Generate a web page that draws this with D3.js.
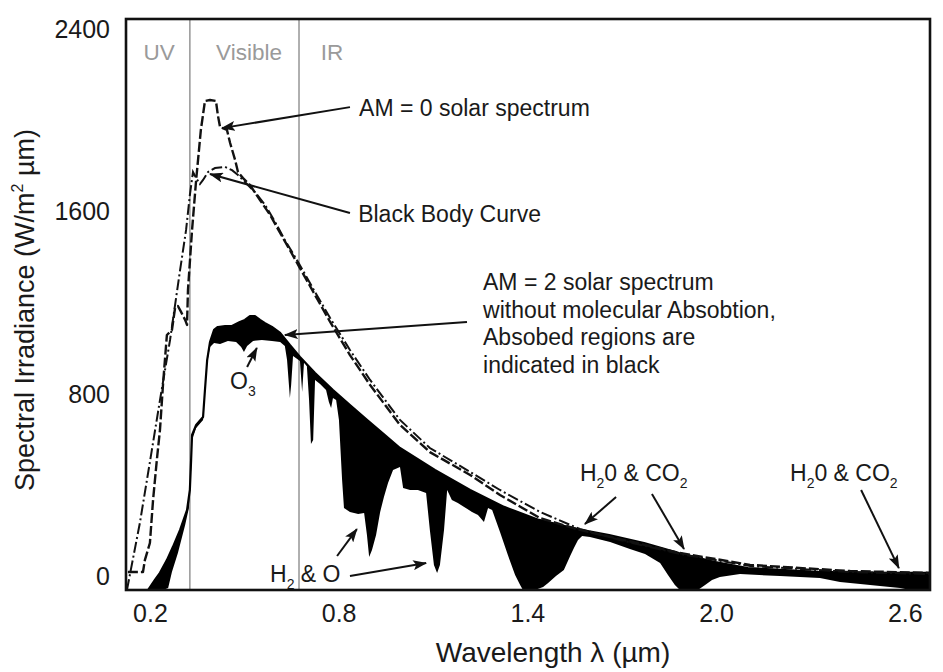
<!DOCTYPE html>
<html>
<head>
<meta charset="utf-8">
<script src="https://cdn.jsdelivr.net/npm/d3@7"></script>
<style>
  body { margin: 0; background: #fff; }
  text { font-family: "Liberation Sans", Arial, sans-serif; fill: #1a1a1a; }
</style>
</head>
<body>
<div id="chart"></div>
<script>
// wavelength (um), spectral irradiance (W/m2 um)
const am0 = [
  [0.130,22],[0.178,22],[0.184,74],[0.200,149],[0.210,337],[0.223,526],[0.232,644],[0.242,850],
  [0.254,1060],[0.270,1082],[0.280,1178],[0.289,1187],[0.299,1161],[0.312,1126],[0.318,1104],
  [0.321,1257],[0.334,1520],[0.347,1739],[0.362,1958],[0.375,2085],[0.391,2089],[0.410,2085],
  [0.416,2023],[0.423,1971],[0.445,1958],[0.455,1901],[0.471,1826],[0.480,1774],[0.496,1747],
  [0.518,1717],[0.550,1651],[0.582,1586],[0.614,1507],[0.645,1432],[0.677,1353],[0.725,1235],
  [0.773,1117],[0.836,972],[0.900,841],[0.995,666],[1.090,547],[1.218,447],[1.313,359],
  [1.440,258],[1.567,206],[1.694,166],[1.885,105],[2.108,53],[2.426,26],[2.680,18]
];
const blackBody = [
  [0.127,-57],[0.168,236],[0.200,504],[0.232,775],[0.264,1038],[0.296,1345],[0.315,1520],
  [0.327,1673],[0.337,1774],[0.347,1747],[0.359,1721],[0.369,1739],[0.385,1774],[0.407,1791],
  [0.439,1796],[0.461,1782],[0.480,1761],[0.502,1730],[0.534,1686],[0.566,1630],[0.598,1555],
  [0.629,1476],[0.671,1380],[0.725,1248],[0.773,1134],[0.836,994],[0.900,863],[0.995,688],
  [1.090,565],[1.218,460],[1.313,381],[1.440,285],[1.567,210],[1.694,162],[1.885,101],
  [2.108,48],[2.426,22],[2.680,13]
];
// AM2 without molecular absorption (upper edge of the black regions)
const am2Clear = [
  [0.194,-57],[0.216,-13],[0.232,18],[0.254,74],[0.273,131],[0.296,206],[0.318,293],[0.327,381],
  [0.331,512],[0.334,622],[0.347,666],[0.369,701],[0.375,819],[0.382,950],[0.391,1029],
  [0.404,1082],[0.416,1095],[0.439,1099],[0.461,1099],[0.486,1117],[0.502,1126],[0.518,1143],
  [0.534,1143],[0.550,1126],[0.566,1112],[0.588,1095],[0.614,1069],[0.645,1016],[0.677,964],
  [0.725,893],[0.782,819],[0.836,753],[0.890,688],[0.947,622],[0.995,565],[1.106,469],
  [1.218,381],[1.326,307],[1.437,250],[1.571,206],[1.660,184],[1.771,149],[1.882,105],
  [1.993,66],[2.101,39],[2.324,22],[2.547,18],[2.680,18]
];
// AM2 with absorption (lower edge of the black regions)
const am2 = [
  [0.242,-57],[0.258,-48],[0.270,22],[0.289,105],[0.312,228],[0.324,302],[0.331,469],[0.334,600],
  [0.347,653],[0.369,688],[0.375,806],[0.382,937],[0.391,1007],[0.404,1025],[0.423,1020],
  [0.448,1034],[0.474,1029],[0.490,1007],[0.499,985],[0.509,1012],[0.528,1034],[0.556,1038],
  [0.588,1034],[0.614,1029],[0.629,1012],[0.636,950],[0.642,841],[0.645,784],[0.649,841],
  [0.655,968],[0.664,959],[0.677,946],[0.684,810],[0.690,942],[0.699,924],[0.706,775],
  [0.712,582],[0.719,600],[0.725,863],[0.741,845],[0.760,819],[0.769,766],[0.776,740],
  [0.782,784],[0.792,775],[0.801,688],[0.811,425],[0.817,302],[0.836,285],[0.862,276],
  [0.881,280],[0.890,184],[0.897,88],[0.906,118],[0.919,184],[0.932,285],[0.944,350],
  [0.957,412],[0.973,469],[0.995,482],[1.005,390],[1.027,381],[1.052,381],[1.078,368],
  [1.090,206],[1.103,53],[1.113,18],[1.122,53],[1.135,206],[1.145,381],[1.160,337],
  [1.179,324],[1.199,307],[1.224,285],[1.243,272],[1.262,241],[1.275,302],[1.288,293],
  [1.313,197],[1.338,96],[1.361,9],[1.377,-35],[1.386,-57],[1.424,-57],[1.450,-44],
  [1.466,-26],[1.491,4],[1.516,31],[1.536,92],[1.548,127],[1.561,162],[1.574,180],
  [1.599,175],[1.663,153],[1.726,123],[1.774,101],[1.822,61],[1.847,9],[1.869,-35],
  [1.885,-57],[1.942,-57],[1.965,-35],[1.987,-13],[2.012,0],[2.076,13],[2.203,4],
  [2.330,-4],[2.394,-22],[2.458,-31],[2.521,-39],[2.585,-48],[2.617,-57],[2.680,-57]
];
const bandEdges = [0.327, 0.674];
const bandNames = [["UV",0.229],["Visible",0.515],["IR",0.779]];
const xTicks = [0.2, 0.8, 1.4, 2.0, 2.6];
const yTicks = [0, 800, 1600, 2400];
// annotations in chart units: text anchor, arrows [tail, tip]
const notes = [
  {lines:[["AM = 0 solar spectrum"]], at:[0.865,2019], arrows:[[[0.836,2058],[0.429,1966]]]},
  {lines:[["Black Body Curve"]], at:[0.862,1555], arrows:[[[0.836,1594],[0.391,1765]]]},
  {lines:[["AM = 2 solar spectrum"],["without molecular Absobtion,"],["Absobed regions are"],["indicated in black"]],
   at:[1.259,1257], arrows:[[[1.208,1117],[0.629,1060]]]},
  {lines:[["O"],["3","sub"]], at:[0.455,823], arrows:[[[0.509,920],[0.540,1003]]], inline:true},
  {lines:[["H"],["2","sub"],[" & O"]], at:[0.582,-22], arrows:[[[0.795,92],[0.858,210]],[[0.836,4],[1.078,61]]], inline:true},
  {lines:[["H"],["2","sub"],["0 & CO"],["2","sub"]], at:[1.567,420], arrows:[[[1.682,350],[1.583,232]],[[1.796,364],[1.898,123]]], inline:true},
  {lines:[["H"],["2","sub"],["0 & CO"],["2","sub"]], at:[2.235,420], arrows:[[[2.461,381],[2.581,39]]], inline:true}
];

const width = 943, height = 672;
const svg = d3.select("#chart").append("svg")
    .attr("width", width)
    .attr("height", height);

const x = d3.scaleLinear().domain([0.124, 2.68]).range([126, 930]);
const y = d3.scaleLinear().domain([-57, 2444]).range([590, 19]);

const defs = svg.append("defs");
defs.append("clipPath").attr("id", "plot")
  .append("rect")
    .attr("x", x.range()[0]).attr("y", y.range()[1])
    .attr("width", x.range()[1] - x.range()[0])
    .attr("height", y.range()[0] - y.range()[1]);
defs.append("marker")
    .attr("id", "head")
    .attr("markerUnits", "userSpaceOnUse")
    .attr("viewBox", "0 0 14 10")
    .attr("refX", 13).attr("refY", 5)
    .attr("markerWidth", 14).attr("markerHeight", 10)
    .attr("orient", "auto")
  .append("path")
    .attr("d", "M0,0 L14,5 L0,10 L3,5 Z")
    .attr("fill", "#111");

const line = d3.line().x(d => x(d[0])).y(d => y(d[1]));
const plot = svg.append("g").attr("clip-path", "url(#plot)");

// band separators
plot.selectAll(".edge")
  .data(bandEdges)
  .enter().append("line")
    .attr("x1", d => x(d)).attr("x2", d => x(d))
    .attr("y1", y.range()[0]).attr("y2", y.range()[1])
    .attr("stroke", "#9c9c9c")
    .attr("stroke-width", 1.6);

svg.selectAll(".band")
  .data(bandNames)
  .enter().append("text")
    .attr("x", d => x(d[1]))
    .attr("y", y(2264))
    .attr("text-anchor", "middle")
    .style("font-size", "22.5px")
    .style("fill", "#9a9a9a")
    .text(d => d[0]);

// absorbed regions: between clear AM2 and absorbed AM2
plot.append("path")
    .attr("d", line(am2Clear.concat(am2.slice().reverse())) + "Z")
    .attr("fill", "#000");

plot.append("path")
    .attr("d", line(am2Clear))
    .attr("fill", "none")
    .attr("stroke", "#000")
    .attr("stroke-width", 2.2)
    .attr("stroke-linejoin", "round");

plot.append("path")
    .attr("d", line(blackBody))
    .attr("fill", "none")
    .attr("stroke", "#111")
    .attr("stroke-width", 2)
    .attr("stroke-dasharray", "11,3,2,3");

plot.append("path")
    .attr("d", line(am0))
    .attr("fill", "none")
    .attr("stroke", "#111")
    .attr("stroke-width", 2.4)
    .attr("stroke-linejoin", "round")
    .attr("stroke-dasharray", "10,3");

// frame
svg.append("rect")
    .attr("x", x.range()[0]).attr("y", y.range()[1])
    .attr("width", x.range()[1] - x.range()[0])
    .attr("height", y.range()[0] - y.range()[1])
    .attr("fill", "none")
    .attr("stroke", "#111")
    .attr("stroke-width", 2.6);

// axes
const xAxis = svg.append("g")
    .attr("transform", "translate(0," + y.range()[0] + ")")
    .call(d3.axisBottom(x).tickValues(xTicks).tickFormat(d3.format(".1f")).tickSize(0).tickPadding(14));
const yAxis = svg.append("g")
    .attr("transform", "translate(" + x.range()[0] + ",0)")
    .call(d3.axisLeft(y).tickValues(yTicks).tickFormat(d3.format("d")).tickSize(0).tickPadding(16));
[xAxis, yAxis].forEach(function (a) {
  a.select(".domain").remove();
  a.selectAll("text")
    .style("font-size", "25px")
    .style("font-family", "'Liberation Sans', Arial, sans-serif")
    .attr("fill", "#1a1a1a");
});

svg.append("text")
    .attr("x", 553).attr("y", 662)
    .attr("text-anchor", "middle")
    .style("font-size", "28px")
    .text("Wavelength \u03bb (\u00b5m)");

const yTitle = svg.append("text")
    .attr("transform", "translate(34,310) rotate(-90)")
    .attr("text-anchor", "middle")
    .style("font-size", "27px");
yTitle.append("tspan").text("Spectral Irradiance (W/m");
yTitle.append("tspan").attr("dy", -11).style("font-size", "16px").text("2");
yTitle.append("tspan").attr("dy", 11).text(" \u00b5m)");

// annotations
notes.forEach(function (n) {
  n.arrows.forEach(function (a) {
    svg.append("line")
      .attr("x1", x(a[0][0])).attr("y1", y(a[0][1]))
      .attr("x2", x(a[1][0])).attr("y2", y(a[1][1]))
      .attr("stroke", "#111")
      .attr("stroke-width", 2)
      .attr("marker-end", "url(#head)");
  });
  const t = svg.append("text")
    .attr("x", x(n.at[0])).attr("y", y(n.at[1]))
    .style("font-size", "23px");
  if (n.inline) {
    let shifted = false;
    n.lines.forEach(function (p) {
      const s = t.append("tspan").text(p[0]);
      if (p[1] === "sub") { s.attr("dy", 7).style("font-size", "14px"); shifted = true; }
      else if (shifted) { s.attr("dy", -7); shifted = false; }
    });
  } else {
    n.lines.forEach(function (p, i) {
      t.append("tspan")
        .attr("x", x(n.at[0]))
        .attr("dy", i === 0 ? 0 : 27.7)
        .text(p[0]);
    });
  }
});
</script>
</body>
</html>
